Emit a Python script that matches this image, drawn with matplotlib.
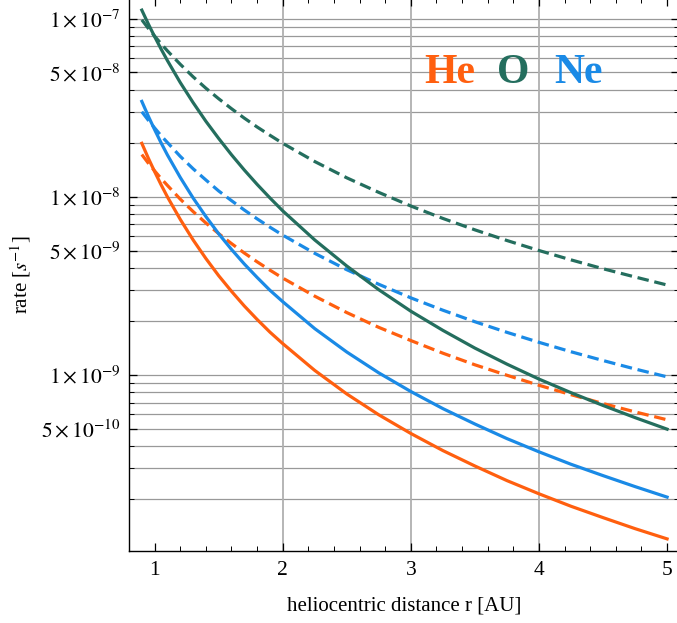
import matplotlib
matplotlib.use("Agg")
import matplotlib.pyplot as plt
from matplotlib.ticker import FixedLocator, FixedFormatter, NullFormatter

plt.rcParams['font.family'] = ['Liberation Serif', 'DejaVu Serif']
plt.rcParams['mathtext.fontset'] = 'stix'

# heliocentric distance [AU]
r = [0.9, 0.95, 1.0, 1.05, 1.1, 1.2, 1.3, 1.4, 1.5, 1.6, 1.7, 1.8, 1.9,
     2.0, 2.25, 2.5, 2.75, 3.0, 3.25, 3.5, 3.75, 4.0, 4.25, 4.5, 4.75, 5.0]

# rates [1/s]
he_solid = [2.0e-8, 1.656e-8, 1.387e-8, 1.172e-8, 1.0e-8, 7.48e-9, 5.74e-9,
            4.51e-9, 3.61e-9, 2.95e-9, 2.44e-9, 2.05e-9, 1.74e-9, 1.50e-9,
            1.06e-9, 7.82e-10, 5.97e-10, 4.69e-10, 3.76e-10, 3.08e-10,
            2.55e-10, 2.15e-10, 1.83e-10, 1.58e-10, 1.37e-10, 1.20e-10]
he_dashed = [1.73e-8, 1.55e-8, 1.4e-8, 1.27e-8, 1.16e-8, 9.72e-9, 8.28e-9,
             7.14e-9, 6.22e-9, 5.47e-9, 4.84e-9, 4.32e-9, 3.88e-9, 3.5e-9,
             2.77e-9, 2.24e-9, 1.85e-9, 1.56e-9, 1.325e-9, 1.14e-9,
             9.96e-10, 8.75e-10, 7.75e-10, 6.91e-10, 6.2e-10, 5.6e-10]
o_solid = [1.12e-7, 9.39e-8, 7.95e-8, 6.78e-8, 5.83e-8, 4.39e-8, 3.39e-8,
           2.66e-8, 2.13e-8, 1.725e-8, 1.416e-8, 1.176e-8, 9.87e-9, 8.35e-9,
           5.73e-9, 4.09e-9, 3.01e-9, 2.28e-9, 1.78e-9, 1.415e-9, 1.15e-9,
           9.48e-10, 7.95e-10, 6.74e-10, 5.76e-10, 4.96e-10]
o_dashed = [9.88e-8, 8.86e-8, 8.0e-8, 7.26e-8, 6.61e-8, 5.56e-8, 4.73e-8,
            4.08e-8, 3.56e-8, 3.13e-8, 2.77e-8, 2.47e-8, 2.22e-8, 2.0e-8,
            1.58e-8, 1.28e-8, 1.06e-8, 8.89e-9, 7.57e-9, 6.53e-9, 5.69e-9,
            5.0e-9, 4.43e-9, 3.95e-9, 3.55e-9, 3.2e-9]
ne_solid = [3.44e-8, 2.85e-8, 2.386e-8, 2.016e-8, 1.72e-8, 1.287e-8, 9.87e-9,
            7.76e-9, 6.21e-9, 5.07e-9, 4.20e-9, 3.53e-9, 2.99e-9, 2.58e-9,
            1.82e-9, 1.345e-9, 1.027e-9, 8.07e-10, 6.47e-10, 5.30e-10,
            4.39e-10, 3.70e-10, 3.15e-10, 2.72e-10, 2.36e-10, 2.06e-10]
ne_dashed = [3.01e-8, 2.70e-8, 2.44e-8, 2.21e-8, 2.02e-8, 1.69e-8, 1.44e-8,
             1.245e-8, 1.08e-8, 9.53e-9, 8.44e-9, 7.53e-9, 6.76e-9, 6.1e-9,
             4.82e-9, 3.9e-9, 3.23e-9, 2.71e-9, 2.31e-9, 1.99e-9, 1.735e-9,
             1.525e-9, 1.35e-9, 1.205e-9, 1.08e-9, 9.76e-10]

y_major = [1e-7, 5e-8, 1e-8, 5e-9, 1e-9, 5e-10]
y_labels = [r'$1\times10^{-7}$', r'$5\times10^{-8}$', r'$1\times10^{-8}$',
            r'$5\times10^{-9}$', r'$1\times10^{-9}$', r'$5\times10^{-10}$']
x_major = [1, 2, 3, 4, 5]
x_grid = [2, 3, 4]

c_he = '#ff5f0f'
c_o = '#246e5e'
c_ne = '#1a8ae6'

fig = plt.figure(figsize=(6.77, 6.23), dpi=100)
ax = fig.add_axes([129 / 677, 72 / 623, 550 / 677, 553 / 623])
ax.set_yscale('log')
ax.set_xlim(0.809, 5.093)
ax.set_ylim(1.026e-10, 1.31e-7)

# grid lines on every log step
y_minor = [k * 10.0 ** n for n in (-10, -9, -8, -7) for k in range(1, 10)]
y_minor = [v for v in y_minor if 1.05e-10 < v < 1.3e-7]
for v in y_minor:
    ax.axhline(v, color='#999999', lw=0.9, zorder=0)
for v in x_grid:
    ax.axvline(v, color='#b0b0b0', lw=1.3, zorder=0)

lw = 2.3
ax.plot(r, he_solid, color=c_he, lw=lw)
ax.plot(r, he_dashed, color=c_he, lw=lw, dashes=(3.6, 1.8))
ax.plot(r, ne_solid, color=c_ne, lw=lw)
ax.plot(r, ne_dashed, color=c_ne, lw=lw, dashes=(3.6, 1.8))
ax.plot(r, o_solid, color=c_o, lw=lw)
ax.plot(r, o_dashed, color=c_o, lw=lw, dashes=(3.6, 1.8))

ax.yaxis.set_major_locator(FixedLocator(y_major))
ax.yaxis.set_major_formatter(FixedFormatter(y_labels))
ax.yaxis.set_minor_locator(FixedLocator([v for v in y_minor if v not in y_major]))
ax.yaxis.set_minor_formatter(NullFormatter())
ax.set_xticks(x_major)
ax.set_xticklabels([str(v) for v in x_major])
ax.set_xticks([1 + 0.2 * i for i in range(-1, 21) if i % 5 != 0], minor=True)

ax.tick_params(which='both', direction='in', top=True, right=True,
               labelsize=15.5, color='black')
ax.tick_params(which='major', length=6, width=0.9)
ax.tick_params(which='minor', length=3.5, width=0.7)
ax.tick_params(axis='y', pad=6)
ax.tick_params(axis='x', pad=7)

for s in ax.spines.values():
    s.set_linewidth(1.0)

ax.set_xlabel('heliocentric distance r [AU]', fontsize=15, labelpad=12)
ax.set_ylabel(r'rate [$s^{-1}$]', fontsize=15, labelpad=6)

fig.text(449.5 / 677, 1 - 73 / 623, 'He', color=c_he, fontsize=30,
         fontweight='bold', ha='center', va='center')
fig.text(513.5 / 677, 1 - 73 / 623, 'O', color=c_o, fontsize=30,
         fontweight='bold', ha='center', va='center')
fig.text(578.5 / 677, 1 - 73 / 623, 'Ne', color=c_ne, fontsize=30,
         fontweight='bold', ha='center', va='center')

fig.savefig('out.png', dpi=100)
